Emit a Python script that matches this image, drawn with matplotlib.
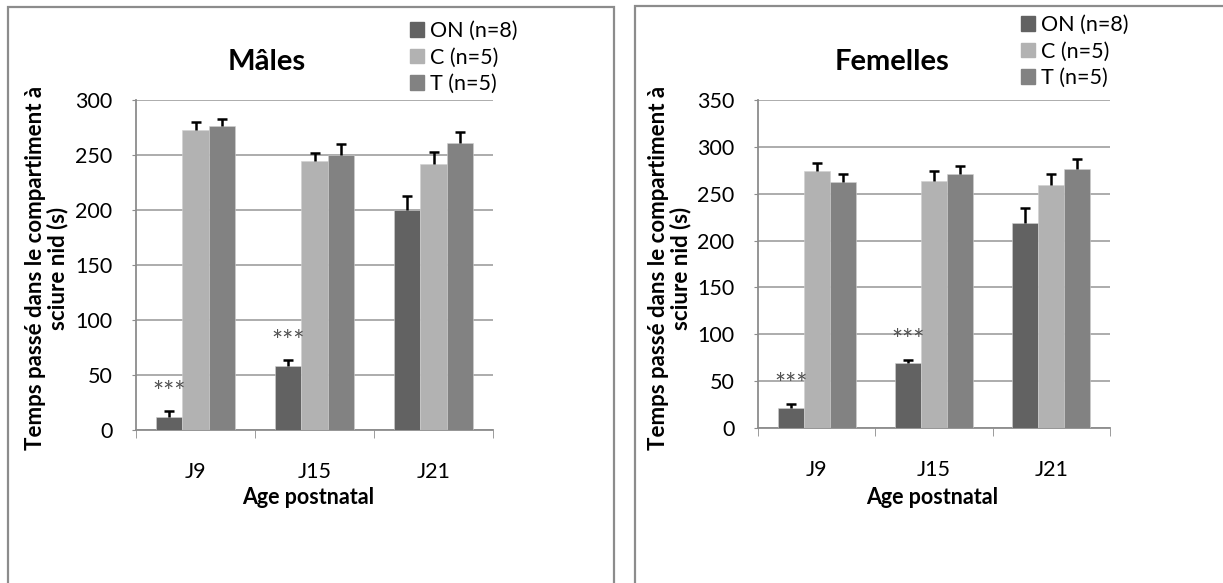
import matplotlib.pyplot as plt
from matplotlib.patches import Patch, Rectangle
import numpy as np

plt.rcParams["font.family"] = ["Lato", "DejaVu Sans"]

ages = ["J9", "J15", "J21"]
groups = ["ON (n=8)", "C (n=5)", "T (n=5)"]
colors = ["#626262", "#b2b2b2", "#828282"]

# males: mean and SEM per group (rows) and age (columns)
males_mean = [[12, 58.5, 200], [273, 245, 242], [276, 250, 261]]
males_sem = [[5, 5, 13], [7, 7, 11], [7, 10, 10]]

females_mean = [[21, 69, 219], [274, 264, 259], [263, 271, 276]]
females_sem = [[5, 4, 16], [9, 10, 12], [8, 9, 11]]

# significance marks on the ON group
stars_ages = [0, 1]
stars_text = "***"

W, H = 1223, 583
fig = plt.figure(figsize=(W / 100, H / 100), dpi=100)

# frames around each panel
for x0, x1, y0 in [(8, 614, 7), (635, 1240, 6)]:
    fig.add_artist(Rectangle((x0 / W, -0.05), (x1 - x0) / W, 1.05 - y0 / H,
                             transform=fig.transFigure, fill=False,
                             edgecolor="#8c8c8c", lw=1.6))


def draw_panel(box, mean, sem, ymax, title, title_xy, ylab_x, xlab_xy, leg_xy):
    ax = fig.add_axes([box[0] / W, 1 - box[3] / H, (box[2] - box[0]) / W,
                       (box[3] - box[1]) / H])
    bw = 0.221
    x = np.arange(len(ages))
    for j, g in enumerate(groups):
        pos = x + (j - 1) * bw
        ax.bar(pos, mean[j], width=bw, color=colors[j], edgecolor="#d0d0d0",
               linewidth=0.4, zorder=3)
        eb = ax.errorbar(pos, mean[j], yerr=[np.zeros(len(ages)), sem[j]],
                         fmt="none", ecolor="black", elinewidth=1.8, capsize=3.8,
                         capthick=1.8, zorder=4)
        # only the upper cap is drawn
        eb[1][0].set_visible(False)
    for i in stars_ages:
        ax.annotate(stars_text, (x[i] - bw, mean[0][i] + sem[0][i]),
                    xytext=(0, 13), textcoords="offset points", ha="center",
                    va="center", fontsize=19, color="#505050")

    ax.set_xlim(-0.5, len(ages) - 0.5)
    ax.set_ylim(0, ymax)
    ax.set_yticks(np.arange(0, ymax + 1, 50))
    ax.yaxis.grid(True, color="#a6a6a6", lw=1.3, zorder=0)
    ax.set_axisbelow(True)
    ax.tick_params(axis="y", labelsize=15.5, length=3, color="#8c8c8c", pad=14)

    # labels at category centres, tick marks between categories
    ax.set_xticks(x, ages)
    ax.set_xticks(np.arange(-0.5, len(ages)), minor=True)
    ax.tick_params(axis="x", which="major", length=0, labelsize=15.5, pad=23)
    ax.tick_params(axis="x", which="minor", length=6, color="#8c8c8c")

    for s in ["top", "right"]:
        ax.spines[s].set_visible(False)
    for s in ["left", "bottom"]:
        ax.spines[s].set_color("#8c8c8c")
        ax.spines[s].set_linewidth(1.3)

    fig.text(title_xy[0] / W, 1 - title_xy[1] / H, title, ha="center",
             va="center", fontsize=21, fontweight="bold")
    fig.text(ylab_x / W, 1 - 268 / H,
             "Temps passé dans le compartiment à\nsciure nid (s)",
             rotation=90, ha="center", va="center", multialignment="center",
             fontsize=16, fontweight="bold", linespacing=1.05)
    fig.text(xlab_xy[0] / W, 1 - xlab_xy[1] / H, "Age postnatal", ha="center",
             va="center", fontsize=15.5, fontweight="bold")

    handles = [Patch(color=c) for c in colors]
    fig.legend(handles, groups, loc="upper left",
               bbox_to_anchor=(leg_xy[0] / W, 1 - leg_xy[1] / H),
               frameon=False, fontsize=15.5, handlelength=0.65,
               handleheight=0.65, handletextpad=0.3, labelspacing=0.3,
               borderpad=0, borderaxespad=0)
    return ax


draw_panel((136, 100, 493, 430), males_mean, males_sem, 300, "Mâles",
           (267, 62), 47, (308, 497), (410, 21))
draw_panel((758, 100, 1110, 428), females_mean, females_sem, 350, "Femelles",
           (892, 62), 670, (932, 497), (1021, 15))

fig.savefig("out.png", dpi=100, facecolor="white")
